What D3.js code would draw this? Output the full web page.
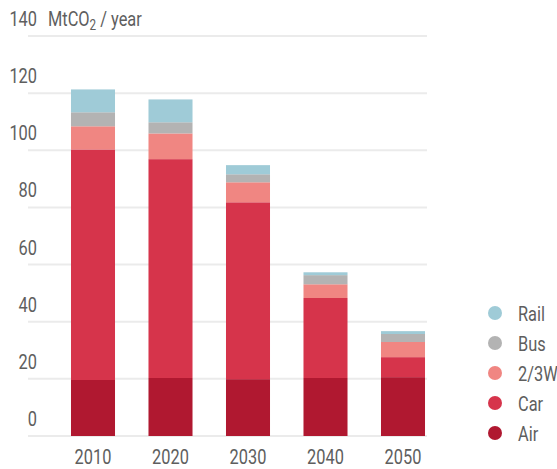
<!DOCTYPE html>
<html>
<head>
<meta charset="UTF-8">
<title>Transport CO2</title>
<script src="https://d3js.org/d3.v7.min.js"></script>
<style>
	body { margin: 0; background: #fff; }
	text { font-family: Roboto, "DejaVu Sans Condensed", sans-serif; fill: #5e5e5e; }
</style>
</head>
<body>
	<div id="chart"></div>
	<script type="text/javascript">

		// values, MtCO2 / year
		let years = ["2010", "2020", "2030", "2040", "2050"];
		let modes = ["Air", "Car", "2/3W", "Bus", "Rail"];
		let air  = [19.6, 20.3, 19.9, 20.3, 20.6];
		let car  = [80.7, 76.6, 61.9, 28.0, 7.0];
		let twoThreeW = [8.1, 9.0, 7.0, 4.8, 5.3];
		let bus  = [4.9, 3.9, 2.8, 3.2, 2.8];
		let rail = [8.0, 8.0, 3.2, 1.0, 1.0];
		let yTicks = [0, 20, 40, 60, 80, 100, 120, 140];
		let colors = ["#b01830", "#d6344b", "#f08682", "#b3b3b3", "#9fcbd7"];

		let width = 557, height = 469;
		let fontSize = 21;

		// the original type is a narrow face, so squeeze Roboto sideways
		function place(x, yy) {
			return "translate(" + x + "," + yy + ") scale(0.78,1)";
		}

		let svg = d3.select("#chart")
			.append("svg")
			.attr("width", width)
			.attr("height", height);

		let rows = years.map((yr, i) => ({
			year: yr, "Air": air[i], "Car": car[i], "2/3W": twoThreeW[i], "Bus": bus[i], "Rail": rail[i]
		}));

		let series = d3.stack().keys(modes)(rows);

		let x = d3.scaleBand()
			.domain(years)
			.range([54.25, 441.75])
			.paddingInner(0.432)
			.paddingOuter(0.216);

		let y = d3.scaleLinear()
			.domain([0, 140])
			.range([436, 36]);

		let color = d3.scaleOrdinal().domain(modes).range(colors);

		// gridlines
		svg.append("g")
			.selectAll("line")
			.data(yTicks)
			.join("line")
			.attr("x1", 28)
			.attr("x2", 427)
			.attr("y1", d => y(d))
			.attr("y2", d => y(d))
			.attr("stroke", "#ebebeb")
			.attr("stroke-width", 2);

		// y labels sit above their gridline
		svg.append("g")
			.selectAll("text")
			.data(yTicks)
			.join("text")
			.attr("transform", d => place(37, y(d) - 10))
			.attr("text-anchor", "end")
			.attr("font-size", fontSize)
			.text(d => d);

		let unit = svg.append("text")
			.attr("transform", place(48, y(140) - 10))
			.attr("font-size", fontSize);
		unit.append("tspan").text("MtCO");
		unit.append("tspan").attr("font-size", 15).attr("dy", 4).text("2");
		unit.append("tspan").attr("dy", -4).text(" / year");

		// stacked bars
		svg.append("g")
			.selectAll("g")
			.data(series)
			.join("g")
			.attr("fill", d => color(d.key))
			.selectAll("rect")
			.data(d => d)
			.join("rect")
			.attr("x", d => x(d.data.year))
			.attr("y", d => y(d[1]))
			.attr("height", d => y(d[0]) - y(d[1]))
			.attr("width", x.bandwidth());

		// x labels
		svg.append("g")
			.selectAll("text")
			.data(years)
			.join("text")
			.attr("transform", d => place(x(d) + x.bandwidth() / 2, 464))
			.attr("text-anchor", "middle")
			.attr("font-size", fontSize)
			.text(d => d);

		// legend, top to bottom Rail .. Air
		let legend = svg.append("g")
			.selectAll("g")
			.data(modes.slice().reverse())
			.join("g")
			.attr("transform", (d, i) => "translate(495," + (313 + i * 30) + ")");

		legend.append("circle")
			.attr("r", 7)
			.attr("fill", d => color(d));

		legend.append("text")
			.attr("transform", place(23, 7.5))
			.attr("font-size", fontSize)
			.text(d => d);
	</script>
</body>
</html>
